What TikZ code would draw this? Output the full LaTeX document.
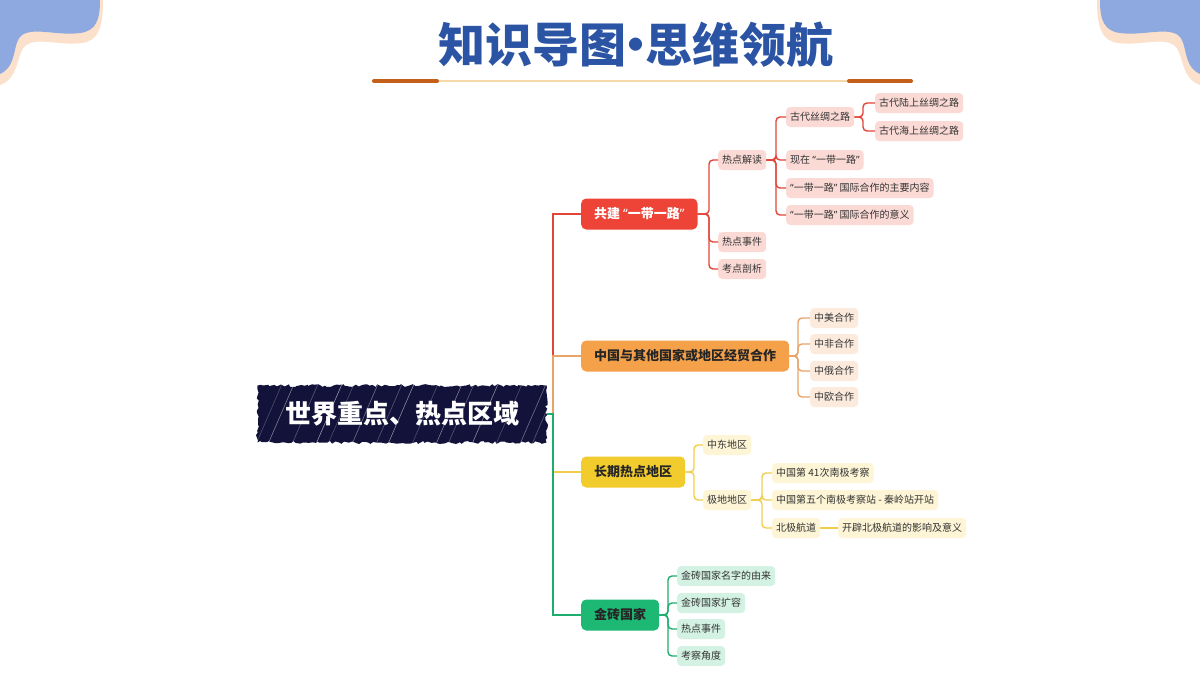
\documentclass[tikz,border=0pt]{standalone}
\usepackage{fontspec}
\setmainfont{Noto Sans CJK SC}
\newfontfamily\qfont{Noto Sans}
\usepackage{tikz}
\usetikzlibrary{positioning,decorations.pathmorphing}
\usepackage{xcolor}
\definecolor{navy}{RGB}{18, 18, 58}
\definecolor{titleblue}{RGB}{44, 84, 164}
\definecolor{cornerblue}{RGB}{142, 168, 224}
\definecolor{peach}{RGB}{251, 224, 204}
\definecolor{rust}{RGB}{196, 96, 26}
\definecolor{sand}{RGB}{245, 217, 168}
\definecolor{redfill}{RGB}{238, 68, 56}
\definecolor{redline}{RGB}{226, 68, 58}
\definecolor{redleaf}{RGB}{251, 218, 214}
\definecolor{orangefill}{RGB}{245, 161, 74}
\definecolor{orangeline}{RGB}{232, 164, 104}
\definecolor{orangeleaf}{RGB}{252, 235, 221}
\definecolor{yellowfill}{RGB}{242, 203, 44}
\definecolor{yellowline}{RGB}{240, 206, 74}
\definecolor{yellowleaf}{RGB}{253, 245, 214}
\definecolor{greenfill}{RGB}{29, 184, 115}
\definecolor{greenline}{RGB}{29, 174, 109}
\definecolor{greenleaf}{RGB}{212, 242, 228}
\newcommand{\oq}{{\qfont “}}
\newcommand{\cq}{{\qfont ”}}

\begin{document}
\begin{tikzpicture}[
    x=1pt, y=-1pt,
    font=\fontsize{10}{12}\selectfont,
    leaf/.style={rectangle, rounded corners=4pt, minimum height=20pt,
                 inner xsep=4pt, inner ysep=0pt, anchor=west, text=black!80},
    branch/.style={rectangle, rounded corners=5pt, minimum height=31pt,
                   inner xsep=13pt, inner ysep=0pt, anchor=west,
                   font=\bfseries\fontsize{13}{15}\selectfont, text=black!85},
    link/.style={line width=1.4pt, rounded corners=4pt},
    trunk/.style={line width=2pt},
  ]
    \useasboundingbox[fill=white] (0,0) rectangle (1200,675);

    % Corner waves
    \foreach \sx/\dx in {1/0, -1/1200} {
      \begin{scope}[xshift=\dx pt, xscale=\sx]
        \fill[peach] (0,0) -- (103,0) .. controls (103,28) and (98,41) .. (82,43)
          .. controls (60,46) and (38,37) .. (26,45)
          .. controls (16,53) and (20,78) .. (0,85) -- cycle;
        \fill[cornerblue] (0,0) -- (100,0) .. controls (100,20) and (96,31) .. (80,33)
          .. controls (58,36) and (34,27) .. (22,35)
          .. controls (12,42) and (18,66) .. (0,74) -- cycle;
      \end{scope}
    }

    % Title
    \node[font=\bfseries\fontsize{47}{52}\selectfont, text=titleblue] (title) at (636,45)
      {知识导图\kern-0.3em•\kern-0.3em思维领航};
    \draw[line width=2.5pt, sand] (372,81) -- (913,81);
    \draw[line width=4pt, rust, line cap=round] (374,81) -- (437,81);
    \draw[line width=4pt, rust, line cap=round] (849,81) -- (911,81);

    % Root
    \node[fill=navy, text=white, minimum width=289pt, minimum height=57pt, inner sep=0pt,
          font=\bfseries\fontsize{26}{30}\selectfont,
          decorate, decoration={random steps, segment length=3pt, amplitude=1.5pt},
          path picture={
            \foreach \i/\o in {-4/.3,-2/.5,0/.25,1/.45,3/.3,5/.55,6/.25,8/.4,10/.3,11/.5,
                               13/.25,15/.45,16/.3,18/.5,20/.25,22/.4,23/.3,25/.5,27/.3}
              \draw[white, opacity=\o, line width=0.6pt]
                ([xshift=\i*12pt]path picture bounding box.south west) -- ++(26pt,60pt);
          }] (root) at (402,414) {世界重点、热点区域};

    % Branches
    \node[branch, fill=redfill, text=white] (b1) at (581,214) {共建 \oq 一带一路\cq};
    \node[branch, fill=orangefill] (b2) at (581,356) {中国与其他国家或地区经贸合作};
    \node[branch, fill=yellowfill] (b3) at (581,472) {长期热点地区};
    \node[branch, fill=greenfill] (b4) at (581,615) {金砖国家};

    \draw[trunk, redline] (root.east) -- ++(6,0) |- (b1.west);
    \draw[trunk, orangeline] (root.east) -- ++(6,0) |- (b2.west);
    \draw[trunk, yellowline] (root.east) -- ++(6,0) |- (b3.west);
    \draw[trunk, greenline] (root.east) -- ++(6,0) |- (b4.west);

    % Branch 1: red
    \node[leaf, fill=redleaf] (jd) at (718,160) {热点解读};
    \node[leaf, fill=redleaf] (sj) at (718,242) {热点事件};
    \node[leaf, fill=redleaf] (kd) at (718,269) {考点剖析};
    \node[leaf, fill=redleaf] (gd) at (786,117) {古代丝绸之路};
    \node[leaf, fill=redleaf] (xz) at (786,160) {现在 \oq 一带一路\cq};
    \node[leaf, fill=redleaf] (nr) at (786,188) {\oq 一带一路\cq\ 国际合作的主要内容};
    \node[leaf, fill=redleaf] (yy) at (786,215) {\oq 一带一路\cq\ 国际合作的意义};
    \node[leaf, fill=redleaf] (ls) at (875,103) {古代陆上丝绸之路};
    \node[leaf, fill=redleaf] (hs) at (875,131) {古代海上丝绸之路};

    \foreach \c in {jd, sj, kd}
      \draw[link, redline] (\c.west) -- ++(-9,0) |- (b1.east);
    \foreach \c in {gd, xz, nr, yy}
      \draw[link, redline] (\c.west) -- ++(-10,0) |- (jd.east);
    \foreach \c in {ls, hs}
      \draw[link, redline] (\c.west) -- ++(-12,0) |- (gd.east);

    % Branch 2: orange
    \node[leaf, fill=orangeleaf] (zm) at (810,318) {中美合作};
    \node[leaf, fill=orangeleaf] (zf) at (810,344) {中非合作};
    \node[leaf, fill=orangeleaf] (ze) at (810,371) {中俄合作};
    \node[leaf, fill=orangeleaf] (zo) at (810,397) {中欧合作};

    \foreach \c in {zm, zf, ze, zo}
      \draw[link, orangeline] (\c.west) -- ++(-12,0) |- (b2.east);

    % Branch 3: yellow
    \node[leaf, fill=yellowleaf] (zd) at (703,445) {中东地区};
    \node[leaf, fill=yellowleaf] (jq) at (703,500) {极地地区};
    \node[leaf, fill=yellowleaf] (nj) at (772,473) {中国第 41次南极考察};
    \node[leaf, fill=yellowleaf] (qz) at (772,500) {中国第五个南极考察站 - 秦岭站开站};
    \node[leaf, fill=yellowleaf] (bj) at (772,528) {北极航道};
    \node[leaf, fill=yellowleaf] (yx) at (838,528) {开辟北极航道的影响及意义};

    \foreach \c in {zd, jq}
      \draw[link, yellowline] (\c.west) -- ++(-9,0) |- (b3.east);
    \foreach \c in {nj, qz, bj}
      \draw[link, yellowline] (\c.west) -- ++(-10,0) |- (jq.east);
    \draw[link, yellowline] (bj) -- (yx);

    % Branch 4: green
    \node[leaf, fill=greenleaf] (mz) at (677,576) {金砖国家名字的由来};
    \node[leaf, fill=greenleaf] (kr) at (677,603) {金砖国家扩容};
    \node[leaf, fill=greenleaf] (rd) at (677,629) {热点事件};
    \node[leaf, fill=greenleaf] (kc) at (677,656) {考察角度};

    \foreach \c in {mz, kr, rd, kc}
      \draw[link, greenline] (\c.west) -- ++(-9,0) |- (b4.east);
  \end{tikzpicture}
\end{document}
